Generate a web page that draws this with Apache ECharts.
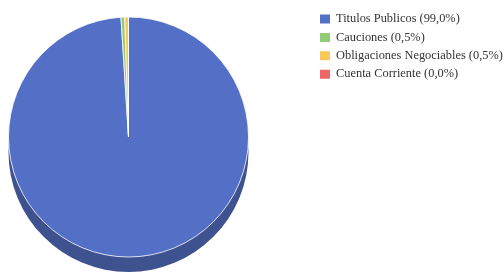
<!DOCTYPE html>
<html>
<head>
<meta charset="utf-8">
<script src="https://cdn.jsdelivr.net/npm/echarts@6/dist/echarts.min.js"></script>
<style>
	html, body { margin: 0; padding: 0; background: #fff; }
	#chart { width: 504px; height: 273px; }
</style>
</head>
<body>
<div id="chart"></div>
<script>
var categories = ["Titulos Publicos", "Cauciones", "Obligaciones Negociables", "Cuenta Corriente"];
var percents = [99.0, 0.5, 0.5, 0.0];
var colors = ["#5470c6", "#91cc75", "#fac858", "#ee6666"];
var sideColors = ["#3e5290", "#6a9656", "#b79240", "#ae4a4a"];

function fmtPct(v) {
	return v.toFixed(1).replace(".", ",") + "%";
}

var topData = [];
var sideData = [];
for(var i = 0; i < categories.length; i++) {
	topData.push({ name: categories[i], value: percents[i], itemStyle: { color: colors[i] } });
	sideData.push({ name: categories[i], value: percents[i], itemStyle: { color: sideColors[i] } });
}

var chart = echarts.init(document.getElementById("chart"));
chart.setOption({
	animation: false,
	legend: {
		orient: "vertical",
		left: 313,
		top: 7,
		itemWidth: 12,
		itemHeight: 11,
		itemGap: 4.4,
		icon: "rect",
		data: categories,
		selectedMode: false,
		textStyle: { fontFamily: "Liberation Serif", fontSize: 12.4, lineHeight: 14, color: "#333" },
		formatter: function(name) {
			var idx = categories.indexOf(name);
			return name + " (" + fmtPct(percents[idx]) + ")";
		}
	},
	series: [{
		// cara superior
		type: "pie",
		z: 3,
		center: [128.5, 137],
		radius: [0, 120],
		startAngle: 90,
		clockwise: true,
		label: { show: false },
		labelLine: { show: false },
		emphasis: { disabled: true },
		itemStyle: { borderColor: "#fff", borderWidth: 0.8 },
		data: topData
	}, {
		// lateral (profundidad)
		type: "pie",
		z: 2,
		silent: true,
		center: [128.5, 152],
		radius: [0, 120],
		startAngle: 90,
		clockwise: true,
		label: { show: false },
		labelLine: { show: false },
		itemStyle: { borderWidth: 0 },
		data: sideData
	}]
});
</script>
</body>
</html>
